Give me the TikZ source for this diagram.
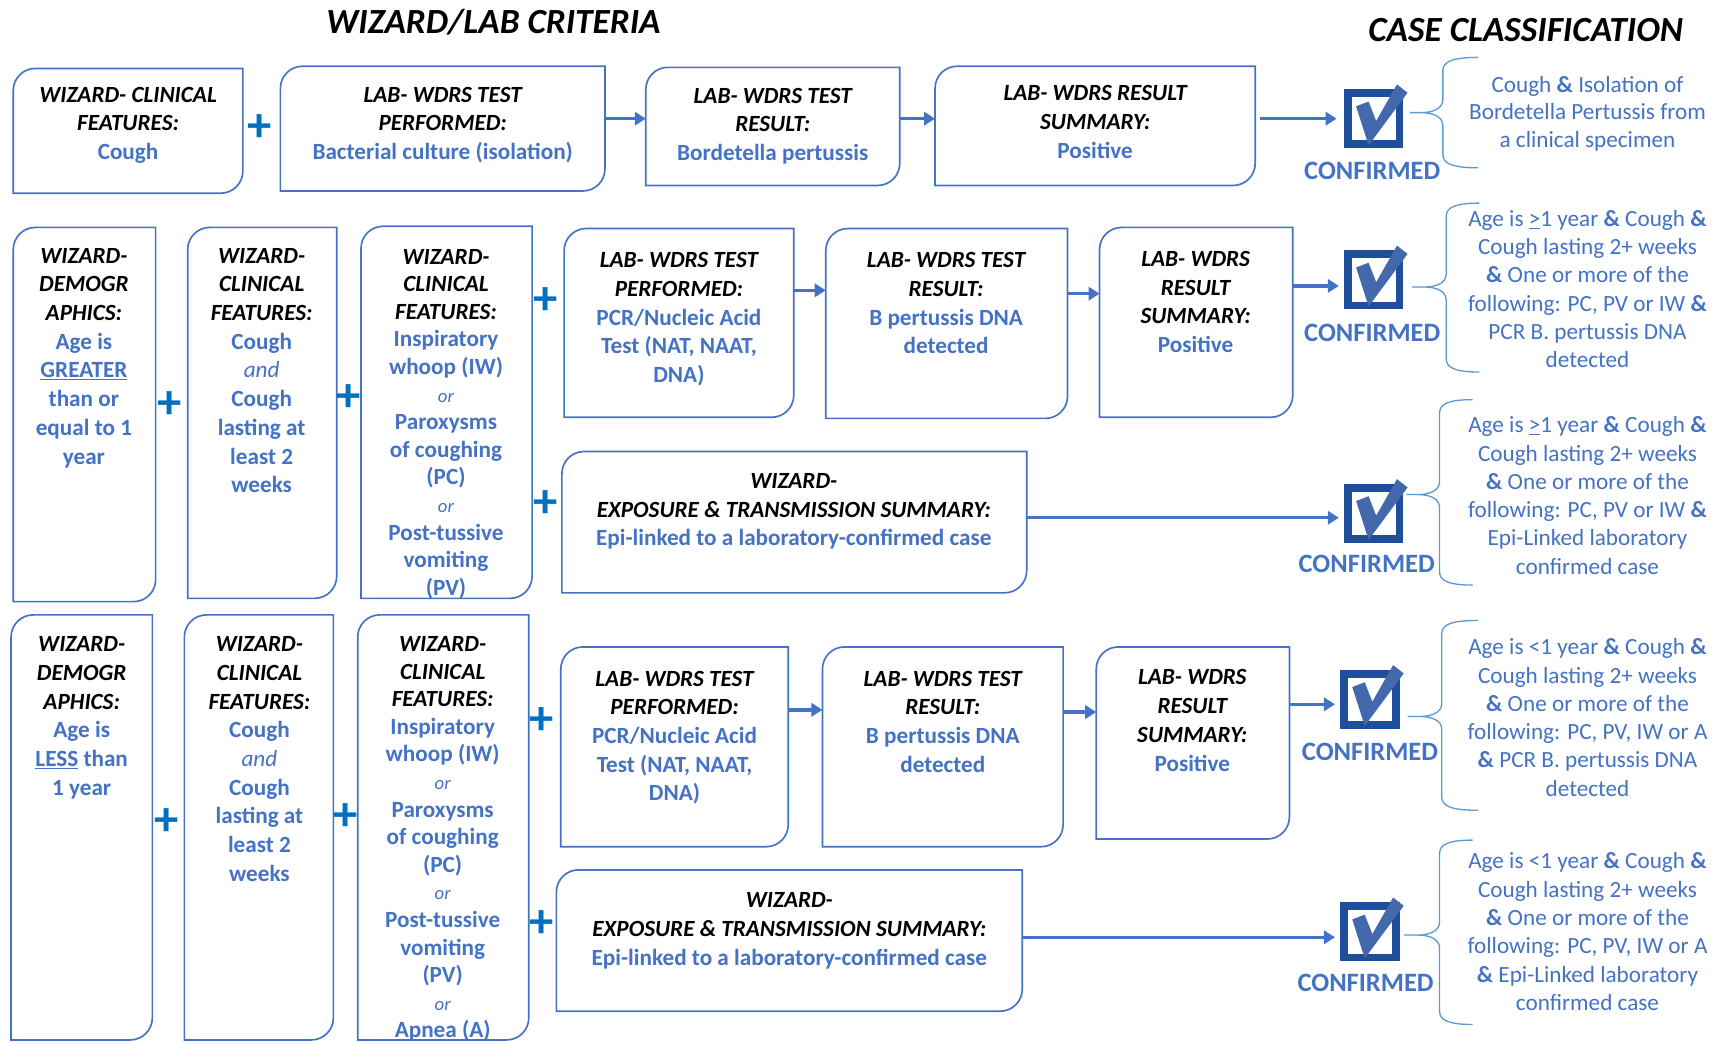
\documentclass[tikz,border=0pt]{standalone}
\usepackage{fontspec}
\setmainfont{Carlito}
\usetikzlibrary{arrows.meta}

\definecolor{boxblue}{HTML}{4472C4}
\definecolor{plusblue}{HTML}{0070C0}
\definecolor{braceblue}{HTML}{5B9BD5}
\definecolor{chkdark}{HTML}{1F4E9A}
\definecolor{chkmid}{HTML}{4468AC}

% text helpers (each line of a centred node is its own group)
\newcommand\hd[1]{{\color{black}\itshape #1}}
\newcommand\orw{{\fontsize{17}{25}\selectfont\mdseries\itshape or}}
\newcommand\andw{{\mdseries\itshape and}}
\newcommand\amp{\textbf{\&}}

\tikzset{
  boxnode/.style={inner sep=0pt, outer sep=0pt},
  boxline/.style={draw=boxblue, line width=1.5pt},
  txt/.style={anchor=north, inner sep=0pt, align=center, text=boxblue,
              font=\fontsize{21}{26}\selectfont\bfseries},
  txtb/.style={txt, font=\fontsize{21}{25}\selectfont\bfseries},
  rtxt/.style={anchor=north, inner sep=0pt, align=center, text=boxblue,
              font=\fontsize{21}{25.6}\selectfont},
  plus/.style={text=plusblue, inner sep=0pt, font=\fontsize{44}{44}\selectfont\bfseries},
  arr/.style={draw=boxblue, line width=3pt, -{Triangle[length=10pt,width=12pt]}},
  braceline/.style={draw=braceblue, line width=1.2pt},
  chkbox/.style={draw=chkdark, fill=white, line width=7pt, minimum size=46.5pt, inner sep=0pt},
  conf/.style={text=boxblue, inner sep=0pt, font=\fontsize{24}{28}\selectfont\bfseries},
  title/.style={anchor=base, inner sep=0pt, font=\fontsize{32}{38}\selectfont\bfseries\itshape},
}

% box with rounded top-left and bottom-right corners: name, x1, y1, x2, y2
\newcommand\mkbox[5]{%
  \node[boxnode, minimum width={(#4-#2)*1pt}, minimum height={(#5-#3)*1pt}]
    (#1) at ({(#2+#4)/2},{(#3+#5)/2}) {};
  \draw[boxline] (#1.west) [rounded corners=20pt] -- (#1.north west) -- (#1.north)
    [sharp corners] -- (#1.north east) -- (#1.east)
    [rounded corners=20pt] -- (#1.south east) -- (#1.south)
    [sharp corners] -- (#1.south west) -- cycle;}

% left curly brace: top, bottom, tip y, spine x, tip x, arm end x
\newcommand\mkbrace[6]{%
  \draw[braceline] (#6,#1) .. controls (#4+8,#1) and (#4,#1+4) .. (#4,#1+12)
    -- (#4,#3-12) .. controls (#4,#3-3) and (#4-10,#3) .. (#4-20,#3) -- (#5,#3)
    -- (#4-20,#3) .. controls (#4-10,#3) and (#4,#3+3) .. (#4,#3+12)
    -- (#4,#2-12) .. controls (#4,#2-4) and (#4+8,#2) .. (#6,#2);}

% check box icon: name, centre x, centre y
\newcommand\mkcheck[3]{%
  \node[chkbox] (#1) at (#2,#3) {};
  \fill[chkmid] ([shift={(-16.1,-11.2)}]#1.center) -- ([shift={(-4.8,-15.5)}]#1.center)
    -- ([shift={(2.1,2.1)}]#1.center) -- ([shift={(20.9,-31)}]#1.center)
    -- ([shift={(30.5,-23.5)}]#1.center) -- ([shift={(-4.8,24.1)}]#1.center) -- cycle;}

\begin{document}
\begin{tikzpicture}[x=1pt, y=-1pt]
\fill[white] (0,0) rectangle (1568,944);
\useasboundingbox (0,0) rectangle (1568,944);

% headings
\node[title] (ttl1) at (447,30.3) {WIZARD/LAB CRITERIA};
\node[title] (ttl2) at (1382,37.3) {CASE CLASSIFICATION};

% ---------- culture row ----------
\mkbox{A1}{12}{62}{220}{175}
\mkbox{A2}{254}{60}{548}{173}
\mkbox{A3}{585}{61}{815}{168}
\mkbox{A4}{847}{60}{1137}{168}
\node[txt] (A1t) at (116,74) {\strut\hd{WIZARD- CLINICAL}\\\hd{FEATURES:}\\Cough};
\node[txt] (A2t) at (401,74) {\strut\hd{LAB- WDRS TEST}\\\hd{PERFORMED:}\\Bacterial culture (isolation)};
\node[txt] (A3t) at (700,75) {\strut\hd{LAB- WDRS TEST}\\\hd{RESULT:}\\Bordetella pertussis};
\node[txt] (A4t) at (992,73) {\strut\hd{LAB- WDRS RESULT}\\\hd{SUMMARY:}\\Positive};
\node[plus] (pA) at (235,116) {+};
\mkcheck{chk1}{1244.5}{107.5}
\draw[arr] (A2.east |- chk1) -- (A3.west |- chk1);
\draw[arr] (A3.east |- chk1) -- (A4.west |- chk1);
\draw[arr, shorten <=4pt, shorten >=7pt] (A4.east |- chk1) -- (chk1.west);
\node[conf] (cf1) at (1243,155) {CONFIRMED};
\mkbrace{52}{152}{102}{1307}{1277}{1339}
\node[rtxt, font=\fontsize{21}{25}\selectfont] (R1) at (1438,66) {\strut Cough \amp{} Isolation of\\Bordetella Pertussis from\\a clinical specimen};

% ---------- one year or older ----------
\mkbox{B1}{12}{206}{141}{545}
\mkbox{B2}{170}{206}{305}{542}
\mkbox{B3}{327}{205}{482}{542}
\mkbox{B4}{511}{207}{719}{378}
\mkbox{B5}{748}{207}{967}{379}
\mkbox{B6}{996}{206}{1171}{378}
\mkbox{B7}{509}{409}{930}{537}
\node[txt] (B1t) at (76,220) {\strut\hd{WIZARD-}\\\hd{DEMOGR}\\\hd{APHICS:}\\Age is\\\underline{GREATER}\\than or\\equal to 1\\year};
\node[txt] (B2t) at (237,220) {\strut\hd{WIZARD-}\\\hd{CLINICAL}\\\hd{FEATURES:}\\Cough\\\andw\\Cough\\lasting at\\least 2\\weeks};
\node[txtb] (B3t) at (404,221.5) {\strut\hd{WIZARD-}\\\hd{CLINICAL}\\\hd{FEATURES:}\\Inspiratory\\whoop (IW)\\\orw\\Paroxysms\\of coughing\\(PC)\\\orw\\Post-tussive\\vomiting\\(PV)};
\node[txt] (B4t) at (615,224) {\strut\hd{LAB- WDRS TEST}\\\hd{PERFORMED:}\\PCR/Nucleic Acid\\Test (NAT, NAAT,\\DNA)};
\node[txt] (B5t) at (857,224) {\strut\hd{LAB- WDRS TEST}\\\hd{RESULT:}\\B pertussis DNA\\detected};
\node[txt] (B6t) at (1083,223) {\strut\hd{LAB- WDRS}\\\hd{RESULT}\\\hd{SUMMARY:}\\Positive};
\node[txt] (B7t) at (719,424) {\strut\hd{WIZARD-}\\\hd{EXPOSURE \& TRANSMISSION SUMMARY:}\\Epi-linked to a laboratory-confirmed case};
\node[plus] (pB1) at (154,367) {+};
\node[plus] (pB2) at (316,361) {+};
\node[plus] (pB3) at (494,273) {+};
\node[plus] (pB4) at (494,457) {+};
\mkcheck{chk2}{1244.5}{253.5}
\mkcheck{chk3}{1244.5}{465}
\draw[arr] ([yshift=-56pt]B4.north east) -- ([yshift=-56pt]B5.north west);
\draw[arr] ([yshift=-59pt]B5.north east) -- ([yshift=-60pt]B6.north west);
\draw[arr, shorten >=5pt] ([yshift=-53pt]B6.north east) coordinate (b6o) -- (b6o -| chk2.west);
\draw[arr, shorten >=5pt] ([yshift=-60pt]B7.north east) coordinate (b7o) -- (b7o -| chk3.west);
\node[conf] (cf2) at (1243,302) {CONFIRMED};
\node[conf] (cf3) at (1238,511) {CONFIRMED};
\mkbrace{184}{337}{260}{1310}{1279}{1340}
\mkbrace{362}{530}{448}{1304}{1274}{1334}
\node[rtxt] (R2) at (1438,187) {\strut Age is \underline{>}1 year \amp{} Cough \amp\\Cough lasting 2+ weeks\\\amp{} One or more of the\\following: PC, PV or IW \amp\\PCR B. pertussis DNA\\detected};
\node[rtxt] (R3) at (1438,374) {\strut Age is \underline{>}1 year \amp{} Cough \amp\\Cough lasting 2+ weeks\\\amp{} One or more of the\\following: PC, PV or IW \amp\\Epi-Linked laboratory\\confirmed case};

% ---------- younger than one year ----------
\mkbox{C1}{10}{557}{138}{942}
\mkbox{C2}{167}{557}{302}{942}
\mkbox{C3}{324}{557}{479}{942}
\mkbox{C4}{508}{586}{714}{767}
\mkbox{C5}{745}{586}{963}{767}
\mkbox{C6}{993}{586}{1168}{760}
\mkbox{C7}{504}{788}{926}{916}
\node[txt] (C1t) at (74,572) {\strut\hd{WIZARD-}\\\hd{DEMOGR}\\\hd{APHICS:}\\Age is\\\underline{LESS} than\\1 year};
\node[txt] (C2t) at (235,572) {\strut\hd{WIZARD-}\\\hd{CLINICAL}\\\hd{FEATURES:}\\Cough\\\andw\\Cough\\lasting at\\least 2\\weeks};
\node[txtb] (C3t) at (401,572.5) {\strut\hd{WIZARD-}\\\hd{CLINICAL}\\\hd{FEATURES:}\\Inspiratory\\whoop (IW)\\\orw\\Paroxysms\\of coughing\\(PC)\\\orw\\Post-tussive\\vomiting\\(PV)\\\orw\\Apnea (A)};
\node[txt] (C4t) at (611,603) {\strut\hd{LAB- WDRS TEST}\\\hd{PERFORMED:}\\PCR/Nucleic Acid\\Test (NAT, NAAT,\\DNA)};
\node[txt] (C5t) at (854,603) {\strut\hd{LAB- WDRS TEST}\\\hd{RESULT:}\\B pertussis DNA\\detected};
\node[txt] (C6t) at (1080,602) {\strut\hd{LAB- WDRS}\\\hd{RESULT}\\\hd{SUMMARY:}\\Positive};
\node[txt] (C7t) at (715,804) {\strut\hd{WIZARD-}\\\hd{EXPOSURE \& TRANSMISSION SUMMARY:}\\Epi-linked to a laboratory-confirmed case};
\node[plus] (pC1) at (151,745) {+};
\node[plus] (pC2) at (313,740) {+};
\node[plus] (pC3) at (491,653) {+};
\node[plus] (pC4) at (491,837) {+};
\mkcheck{chk4}{1241}{633.5}
\mkcheck{chk5}{1241}{844}
\draw[arr] ([yshift=-57pt]C4.north east) -- ([yshift=-57pt]C5.north west);
\draw[arr] ([yshift=-59pt]C5.north east) -- ([yshift=-59pt]C6.north west);
\draw[arr, shorten >=5pt] ([yshift=-52pt]C6.north east) coordinate (c6o) -- (c6o -| chk4.west);
\draw[arr, shorten >=5pt] ([yshift=-61pt]C7.north east) coordinate (c7o) -- (c7o -| chk5.west);
\node[conf] (cf4) at (1241,681) {CONFIRMED};
\node[conf] (cf5) at (1237,890) {CONFIRMED};
\mkbrace{562}{734}{649}{1306}{1275}{1339}
\mkbrace{761}{928}{847}{1304}{1272}{1334}
\node[rtxt] (R4) at (1438,575) {\strut Age is <1 year \amp{} Cough \amp\\Cough lasting 2+ weeks\\\amp{} One or more of the\\following: PC, PV, IW or A\\\amp{} PCR B. pertussis DNA\\detected};
\node[rtxt] (R5) at (1438,769) {\strut Age is <1 year \amp{} Cough \amp\\Cough lasting 2+ weeks\\\amp{} One or more of the\\following: PC, PV, IW or A\\\amp{} Epi-Linked laboratory\\confirmed case};
\end{tikzpicture}
\end{document}
